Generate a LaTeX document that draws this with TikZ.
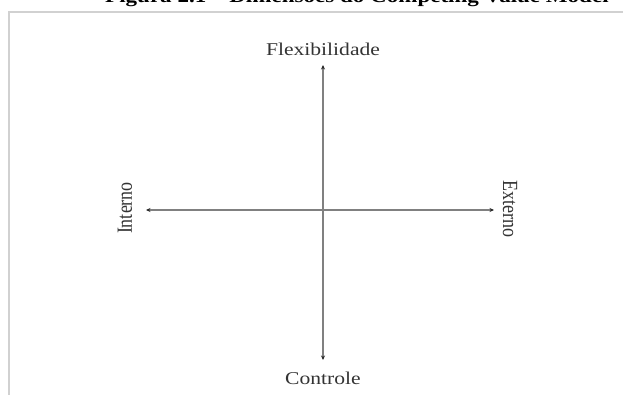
\documentclass[tikz,border=0pt]{standalone}
\usepackage{fontspec}
\setmainfont{Liberation Serif}
\usetikzlibrary{arrows.meta, positioning}
\newcommand{\widetext}[1]{\scalebox{1.2}[1]{#1}}

\begin{document}
\begin{tikzpicture}[
    x=1pt, y=-1pt,
    every node/.style={font=\fontsize{18}{20}\selectfont, text=black!80, inner sep=0pt},
    ax/.style={draw=black!50, line width=1.3pt, {Stealth[length=4.5pt, width=4pt, black!85]}-{Stealth[length=4.5pt, width=4pt, black!85]}},
    frame/.style={draw=black!18, line width=2.5pt}
]
\useasboundingbox (0,0) rectangle (623,394);
\clip (0,0) rectangle (623,394);
% ----- caption (cut off at the top) and frame -----
\node[anchor=base west, font=\bfseries\fontsize{19.2}{23}\selectfont, text=black] (title) at (105,2.5) {\widetext{Figura 2.1 – Dimensões do Competing Value Model}};
\draw[frame] (9,400) |- (640,12);
% ----- axis labels -----
\node (flex) at (323,49) {\widetext{Flexibilidade}};
\node (ctrl) at (323,378) {\widetext{Controle}};
\node[rotate=90] (int) at (125,208) {\scalebox{1}[1.2]{Interno}};
\node[rotate=-90] (ext) at (510,209) {\scalebox{1}[1.2]{Externo}};
% ----- axis end points -----
\coordinate (top) at (323,65);
\coordinate (bot) at (323,360);
\coordinate (lft) at (146,210);
\coordinate (rgt) at (494,210);
% axes
\draw[ax] (bot) -- (top);
\draw[ax] (lft) -- (rgt);
\end{tikzpicture}
\end{document}
